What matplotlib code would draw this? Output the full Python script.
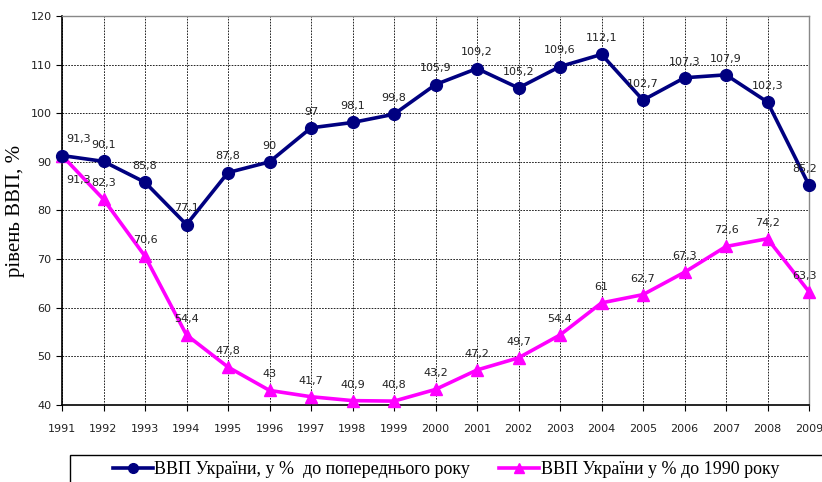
import matplotlib
matplotlib.use("Agg")
import matplotlib.pyplot as plt
from matplotlib.patches import Rectangle
from matplotlib.lines import Line2D

years = list(range(1991, 2010))
gdp_prev = [91.3, 90.1, 85.8, 77.1, 87.8, 90, 97, 98.1, 99.8, 105.9, 109.2,
            105.2, 109.6, 112.1, 102.7, 107.3, 107.9, 102.3, 85.2]
gdp_1990 = [91.3, 82.3, 70.6, 54.4, 47.8, 43, 41.7, 40.9, 40.8, 43.2, 47.2,
            49.7, 54.4, 61, 62.7, 67.3, 72.6, 74.2, 63.3]
name_prev = "ВВП України, у %  до попереднього року"
name_1990 = "ВВП України у % до 1990 року"
y_label = "рівень ВВП, %"

def fmt(v):
    s = ("%g" % v)
    return s.replace(".", ",")

fig = plt.figure(figsize=(8.22, 4.82), dpi=100)
ax = fig.add_axes([62/822, 1-405/482, (809-62)/822, (405-16)/482])

navy = "#000080"
mag = "#FF00FF"

ax.plot(years, gdp_1990, color=mag, lw=2.6, marker="^", ms=8.5, zorder=3, clip_on=False)
ax.plot(years, gdp_prev, color=navy, lw=2.6, marker="o", ms=8.5, zorder=4, clip_on=False)

ax.set_xlim(1991, 2009)
ax.set_ylim(40, 120)
ax.set_xticks(years)
ax.set_yticks(range(40, 121, 10))
ax.tick_params(axis="both", labelsize=8, direction="out", length=4, width=0.8,
               colors="black", labelcolor="#222222")
ax.tick_params(axis="x", pad=10)
ax.grid(True, color="black", linestyle=(0, (2, 1.5)), linewidth=0.6)
ax.set_axisbelow(True)
for s in ("top", "right"):
    ax.spines[s].set_color("#888888")
    ax.spines[s].set_linewidth(1)
for s in ("left", "bottom"):
    ax.spines[s].set_color("black")
    ax.spines[s].set_linewidth(1.2)

ax.set_ylabel(y_label, family="Liberation Serif", fontsize=15, labelpad=4)

lab_kw = dict(textcoords="offset points", ha="center", va="bottom",
              fontsize=8, color="#222222", zorder=6, annotation_clip=False)
for i, (x, v) in enumerate(zip(years, gdp_prev)):
    dx = 0
    if i == 0:
        dx = 12
    elif i == len(years) - 1:
        dx = -3
    ax.annotate(fmt(v), (x, v), xytext=(dx, 8), **lab_kw)
for i, (x, v) in enumerate(zip(years, gdp_1990)):
    dx, dy, va = 0, 8, "bottom"
    if i == 0:
        dx, dy, va = 12, -14, "top"
    elif i == len(years) - 1:
        dx = -3
    kw = dict(lab_kw)
    kw["va"] = va
    ax.annotate(fmt(v), (x, v), xytext=(dx, dy), **kw)

# legend box
fig.patches.append(Rectangle((70/822, -0.05), 0.95, (482-455)/482 + 0.05,
                             transform=fig.transFigure, fill=False,
                             edgecolor="black", lw=1.0))
handles = [Line2D([], [], color=navy, lw=2.6, marker="o", ms=7),
           Line2D([], [], color=mag, lw=2.6, marker="^", ms=7)]
fig.legend(handles, [name_prev, name_1990], loc="center",
           bbox_to_anchor=(446/822, 1-470/482), ncol=2, frameon=False,
           prop=dict(family="Liberation Serif", size=13),
           handlelength=2.2, handletextpad=0.1, columnspacing=1.6)

fig.savefig("out.png", dpi=100)
